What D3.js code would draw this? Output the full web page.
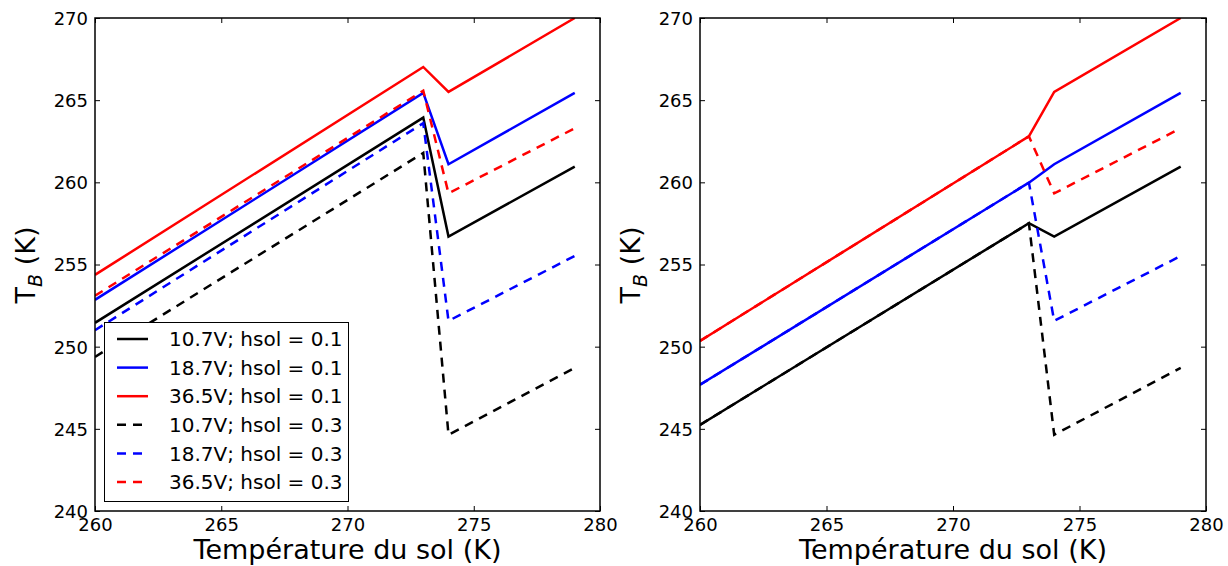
<!DOCTYPE html>
<html>
<head>
<meta charset="utf-8">
<script src="https://cdn.jsdelivr.net/npm/d3@7"></script>
<style>
  html, body { margin: 0; padding: 0; background: #fff; }
  svg { display: block; font-family: "DejaVu Sans", sans-serif; }
</style>
</head>
<body>
<svg id="chart" width="1228" height="566"></svg>
<script>
// Soil temperature (K) at the break points of each curve
const soilTemp = [260, 273, 274, 279];

// Brightness temperature (K), left panel
const left_10V_h01 = [251.45, 263.94, 256.70, 260.96];
const left_18V_h01 = [252.85, 265.44, 261.10, 265.44];
const left_36V_h01 = [254.37, 267.02, 265.50, 270.00];
const left_10V_h03 = [249.38, 261.79, 244.64, 248.71];
const left_18V_h03 = [251.00, 263.60, 251.57, 255.52];
const left_36V_h03 = [253.10, 265.58, 259.33, 263.29];

// Brightness temperature (K), right panel
const right_10V_h01 = [245.24, 257.51, 256.70, 260.96];
const right_18V_h01 = [247.68, 259.98, 261.10, 265.44];
const right_36V_h01 = [250.35, 262.80, 265.50, 270.00];
const right_10V_h03 = [245.24, 257.51, 244.64, 248.71];
const right_18V_h03 = [247.68, 259.98, 251.57, 255.52];
const right_36V_h03 = [250.35, 262.80, 259.33, 263.29];

const seriesLabels = [
  "10.7V; hsol = 0.1", "18.7V; hsol = 0.1", "36.5V; hsol = 0.1",
  "10.7V; hsol = 0.3", "18.7V; hsol = 0.3", "36.5V; hsol = 0.3"
];
const seriesColors = ["#000000", "#0000ff", "#ff0000", "#000000", "#0000ff", "#ff0000"];
const seriesDashed = [false, false, false, true, true, true];

const xTicks = [260, 265, 270, 275, 280];
const yTicks = [240, 245, 250, 255, 260, 265, 270];
const xTitle = "Température du sol (K)";

const svg = d3.select("#chart");
const plotTop = 18, plotBottom = 511;
const DASH = "9,7";

function drawPanel(x0, x1, data, withLegend) {
  const x = d3.scaleLinear().domain([260, 280]).range([x0, x1]);
  const y = d3.scaleLinear().domain([240, 270]).range([plotBottom, plotTop]);
  const g = svg.append("g");

  const clipId = "clip" + x0;
  g.append("clipPath").attr("id", clipId)
    .append("rect").attr("x", x0).attr("y", plotTop).attr("width", x1 - x0).attr("height", plotBottom - plotTop);

  const line = d3.line().x((d, i) => x(soilTemp[i])).y(d => y(d));
  const lines = g.append("g").attr("clip-path", `url(#${clipId})`);
  data.forEach((vals, i) => {
    lines.append("path")
      .attr("d", line(vals))
      .attr("fill", "none")
      .attr("stroke", seriesColors[i])
      .attr("stroke-width", 2.5)
      .attr("stroke-linejoin", "miter")
      .attr("stroke-dasharray", seriesDashed[i] ? DASH : null);
  });

  // inward ticks on all four sides
  const axB = g.append("g").attr("transform", `translate(0,${plotBottom})`)
    .call(d3.axisBottom(x).tickValues(xTicks).tickSizeInner(-5).tickSizeOuter(0).tickPadding(3).tickFormat(d3.format("d")));
  const axT = g.append("g").attr("transform", `translate(0,${plotTop})`)
    .call(d3.axisTop(x).tickValues(xTicks).tickSizeInner(-5).tickSizeOuter(0).tickFormat(""));
  const axL = g.append("g").attr("transform", `translate(${x0},0)`)
    .call(d3.axisLeft(y).tickValues(yTicks).tickSizeInner(-5).tickSizeOuter(0).tickPadding(7).tickFormat(d3.format("d")));
  const axR = g.append("g").attr("transform", `translate(${x1},0)`)
    .call(d3.axisRight(y).tickValues(yTicks).tickSizeInner(-5).tickSizeOuter(0).tickFormat(""));
  [axB, axT, axL, axR].forEach(a => {
    a.select(".domain").remove();
    a.selectAll(".tick line").attr("stroke", "#000").attr("stroke-width", 1);
    a.selectAll("text").attr("font-size", 18).attr("font-family", "DejaVu Sans").attr("fill", "#000");
  });
  axB.selectAll("text").attr("dy", "0.92em");
  axL.selectAll("text").attr("dy", "0.36em");

  // frame
  g.append("rect").attr("x", x0).attr("y", plotTop).attr("width", x1 - x0).attr("height", plotBottom - plotTop)
    .attr("fill", "none").attr("stroke", "#000").attr("stroke-width", 1.5);

  // axis titles
  g.append("text").attr("x", (x0 + x1) / 2).attr("y", 559)
    .attr("text-anchor", "middle").attr("font-size", 27).text(xTitle);
  const yl = g.append("text").attr("transform", `translate(${x0 - 60},265) rotate(-90)`)
    .attr("text-anchor", "middle").attr("font-size", 27);
  yl.append("tspan").text("T");
  yl.append("tspan").attr("font-style", "italic").attr("font-size", 19).attr("dy", 7).text("B");
  yl.append("tspan").attr("dy", -7).text(" (K)");

  if (withLegend) {
    const lg = g.append("g");
    const bx = 104.5, by = 322.5, bw = 244, bh = 179;
    lg.append("rect").attr("x", bx).attr("y", by).attr("width", bw).attr("height", bh)
      .attr("fill", "#fff").attr("stroke", "#000").attr("stroke-width", 1);
    seriesLabels.forEach((lab, i) => {
      const cy = 339 + i * 28.6;
      lg.append("line").attr("x1", 117).attr("x2", 148).attr("y1", cy).attr("y2", cy)
        .attr("stroke", seriesColors[i]).attr("stroke-width", 2.5)
        .attr("stroke-dasharray", seriesDashed[i] ? DASH : null);
      lg.append("text").attr("x", 169).attr("y", cy).attr("dy", "0.36em")
        .attr("font-size", 20).text(lab);
    });
  }
}

drawPanel(95, 600,
  [left_10V_h01, left_18V_h01, left_36V_h01, left_10V_h03, left_18V_h03, left_36V_h03], true);
drawPanel(700, 1206,
  [right_10V_h01, right_18V_h01, right_36V_h01, right_10V_h03, right_18V_h03, right_36V_h03], false);
</script>
</body>
</html>
